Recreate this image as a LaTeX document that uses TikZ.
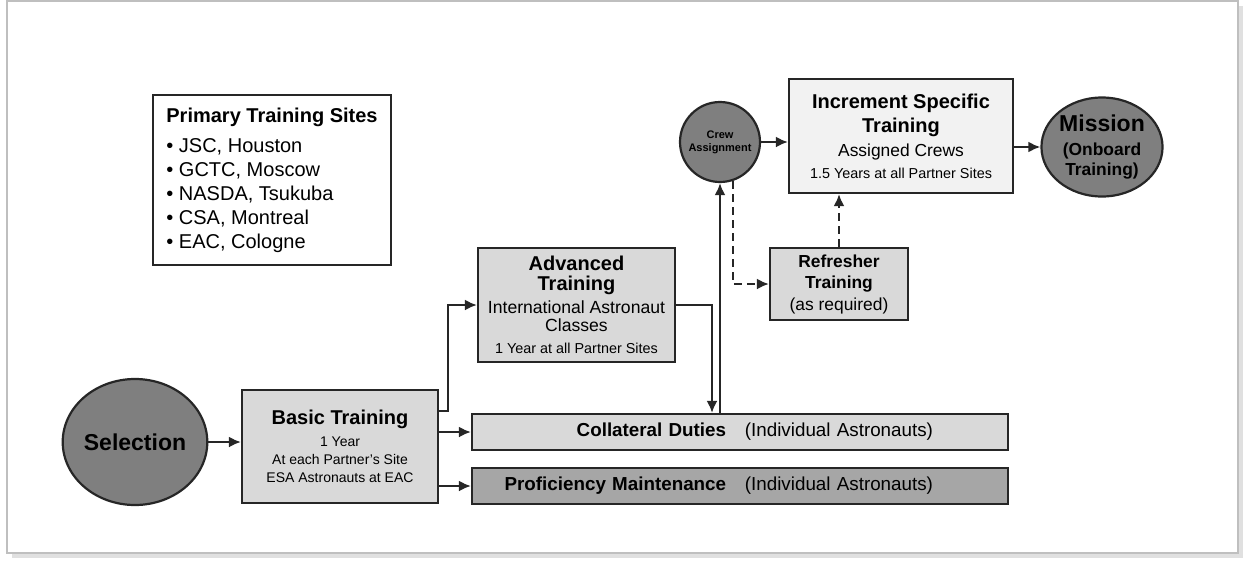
\documentclass[tikz,border=0pt]{standalone}
\usepackage{fontspec}
\setmainfont{Liberation Sans}
\usetikzlibrary{positioning}
\usetikzlibrary{shapes.geometric,arrows.meta}
\definecolor{bord}{HTML}{262626}
\definecolor{dkgray}{HTML}{7F7F7F}
\definecolor{mdgray}{HTML}{A6A6A6}
\definecolor{ltgray}{HTML}{D9D9D9}
\definecolor{wtgray}{HTML}{F2F2F2}
\newcommand{\boxtitle}{\fontsize{10}{11}\selectfont\bfseries}
\newcommand{\boxsmall}{\fontsize{7.2}{9}\selectfont}
\tikzstyle{stage}=[
  draw=bord,
  line width=1.1pt,
  fill=ltgray,
  inner sep=0pt,
  align=center
]
\tikzstyle{disc}=[
  draw=bord,
  line width=1.1pt,
  fill=dkgray,
  ellipse,
  inner sep=0pt,
  align=center
]
\tikzstyle{bar}=[
  stage,
  minimum width=268pt,
  minimum height=18pt,
  text width=268pt,
  align=right,
  font=\fontsize{9.4}{11}\selectfont
]
\tikzstyle{flow}=[-{Latex[length=6pt,width=5.5pt]},draw=bord,line width=1.1pt]
\tikzstyle{dashedflow}=[flow,dash pattern=on 4pt off 2.5pt]
\begin{document}
\begin{tikzpicture}[x=0.5pt,y=-0.5pt]
    \useasboundingbox (0,0) rectangle (1248,563);
    % frame
    \draw[black!12,line width=2pt] (12,556) -- (1241,556) -- (1241,6);
    \draw[black!25,line width=0.8pt] (7,1) rectangle (1238,553);
    % sites
    \node[stage,fill=white,minimum width=119pt,minimum height=85pt,align=left,font=\fontsize{10}{12}\selectfont] (sites) at (272,180) {{\bfseries Primary Training Sites}\\[3pt] \textbullet{} JSC, Houston\\ \textbullet{} GCTC, Moscow\\ \textbullet{} NASDA, Tsukuba\\ \textbullet{} CSA, Montreal\\ \textbullet{} EAC, Cologne} ;
    % stages
    \node[disc,minimum width=60pt,minimum height=63pt,font=\fontsize{11.5}{12}\selectfont\bfseries] (selection) at (135,442) {Selection} ;
    \node[stage,minimum width=98pt,minimum height=56.5pt,font=\fontsize{7}{9}\selectfont] (basic) at (340,446.5) {{\boxtitle Basic Training}\\[2pt] 1 Year\\ At each Partner's Site\\ ESA Astronauts at EAC} ;
    \node[stage,minimum width=98.5pt,minimum height=57pt,font=\fontsize{8.8}{9}\selectfont] (advanced) at (576.5,305) {{\boxtitle Advanced}\\[1pt] {\boxtitle Training}\\[2.5pt] International Astronaut\\ Classes\\[2pt] {\boxsmall 1 Year at all Partner Sites}} ;
    \node[bar] (collateral) at (740,432) {{\bfseries Collateral Duties}\quad(Individual Astronauts)\kern37.5pt} ;
    \node[bar,fill=mdgray] (proficiency) at (740,486) {{\bfseries Proficiency Maintenance}\quad(Individual Astronauts)\kern37.5pt} ;
    \node[disc,circle,minimum size=40pt,font=\fontsize{5.5}{6.5}\selectfont\bfseries] (crew) at (720,142) {Crew\\Assignment} ;
    \node[stage,fill=wtgray,minimum width=112pt,minimum height=57pt,font=\fontsize{8.7}{11}\selectfont] (increment) at (901,136) {{\boxtitle Increment Specific}\\[1pt] {\boxtitle Training}\\[1pt] Assigned Crews\\ {\boxsmall 1.5 Years at all Partner Sites}} ;
    \node[disc,minimum width=55.5pt,minimum height=49.5pt,font=\fontsize{8.7}{10}\selectfont\bfseries] (mission) at (1102,147) {{\fontsize{11.5}{12}\selectfont Mission}\\[2pt] (Onboard\\ Training)} ;
    \node[stage,minimum width=69pt,minimum height=36pt,font=\fontsize{8.7}{10.75}\selectfont] (refresher) at (839,284) {{\bfseries Refresher}\\ {\bfseries Training}\\ (as required)} ;
    % connectors
    \draw[flow] (selection.east) -- (selection.east -| basic.west);
    \draw[flow] ([yshift=-11pt]basic.north east) -- ++(9,0) |- (advanced.west);
    \draw[flow] (basic.east |- collateral.west) -- (collateral.west);
    \draw[flow] (basic.east |- proficiency.west) -- (proficiency.west);
    \draw[flow] (advanced.east) -| ([xshift=-14pt]collateral.north);
    \draw[flow] (collateral.north -| crew.south) -- (crew.south);
    \draw[flow] (crew.east) -- (crew.east -| increment.west);
    \draw[flow] (increment.east |- mission.west) -- (mission.west);
    \draw[dashedflow] (crew.-72) |- (refresher.west);
    \draw[dashedflow] (refresher.north) -- (refresher.north |- increment.south);
  \end{tikzpicture}
\end{document}
